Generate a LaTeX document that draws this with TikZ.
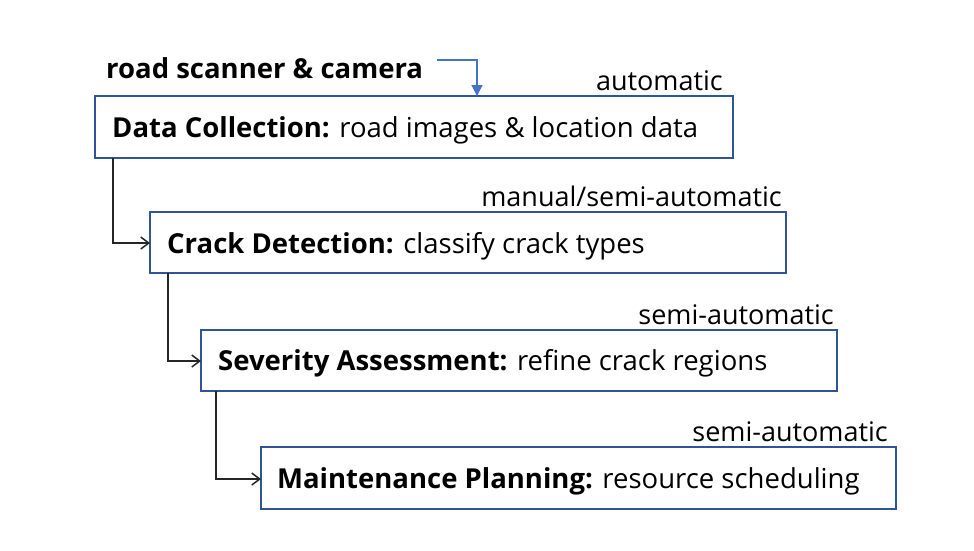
\documentclass[tikz,border=0pt]{standalone}
\usepackage{fontspec}
\setmainfont{Open Sans}[BoldFont={Open Sans Bold}]
\usetikzlibrary{arrows.meta}
\definecolor{boxblue}{HTML}{2F5597}
\definecolor{feedblue}{HTML}{4472C4}
\begin{document}
\begin{tikzpicture}[x=1pt,y=-1pt,
  stagebox/.style={draw=boxblue,line width=1.6pt,fill=white},
  stagetext/.style={anchor=west,inner sep=0pt,font=\fontsize{27.5}{32}\selectfont},
  modetext/.style={anchor=east,inner sep=0pt,font=\fontsize{27}{32}\selectfont},
  flow/.style={draw=black!85,line width=1.2pt,-{Straight Barb[length=8pt,width=12pt,line width=1.5pt]}},
  feed/.style={draw=feedblue,line width=1.2pt,-{Triangle[length=11pt,width=11pt]}}]
\useasboundingbox (0,0) rectangle (974,550);
% stage boxes
\draw[stagebox] (95,96) rectangle (733,158);
\draw[stagebox] (150,212) rectangle (786,273);
\draw[stagebox] (201,330) rectangle (837,391);
\draw[stagebox] (261,447) rectangle (896,509);
\coordinate (b1l) at (113,158);
\coordinate (b2) at (150,243);
\coordinate (b2l) at (168,273);
\coordinate (b3) at (201,361);
\coordinate (b3l) at (216,391);
\coordinate (b4) at (261,479);
% stage texts
\node[stagetext] (t1) at (112,130) {\textbf{Data Collection:} road images \& location data};
\node[stagetext] (t2) at (167,246) {\textbf{Crack Detection:} classify crack types};
\node[stagetext] (t3) at (218,363) {\textbf{Severity Assessment:} refine crack regions};
\node[stagetext] (t4) at (277,481) {\textbf{Maintenance Planning:} resource scheduling};
% automation level labels
\node[modetext] (m1) at (723,81) {automatic};
\node[modetext] (m2) at (782,196) {manual/semi-automatic};
\node[modetext] (m3) at (834,315) {semi-automatic};
\node[modetext] (m4) at (888,432) {semi-automatic};
% input source
\node[stagetext] (src) at (106,68) {\textbf{road scanner \& camera}};
\coordinate (srcend) at (437,60);
\coordinate (top1) at (477,96);
\draw[feed] (srcend) -| (top1);
% flow between stages
\draw[flow] (b1l) |- (b2);
\draw[flow] (b2l) |- (b3);
\draw[flow] (b3l) |- (b4);
\end{tikzpicture}
\end{document}
